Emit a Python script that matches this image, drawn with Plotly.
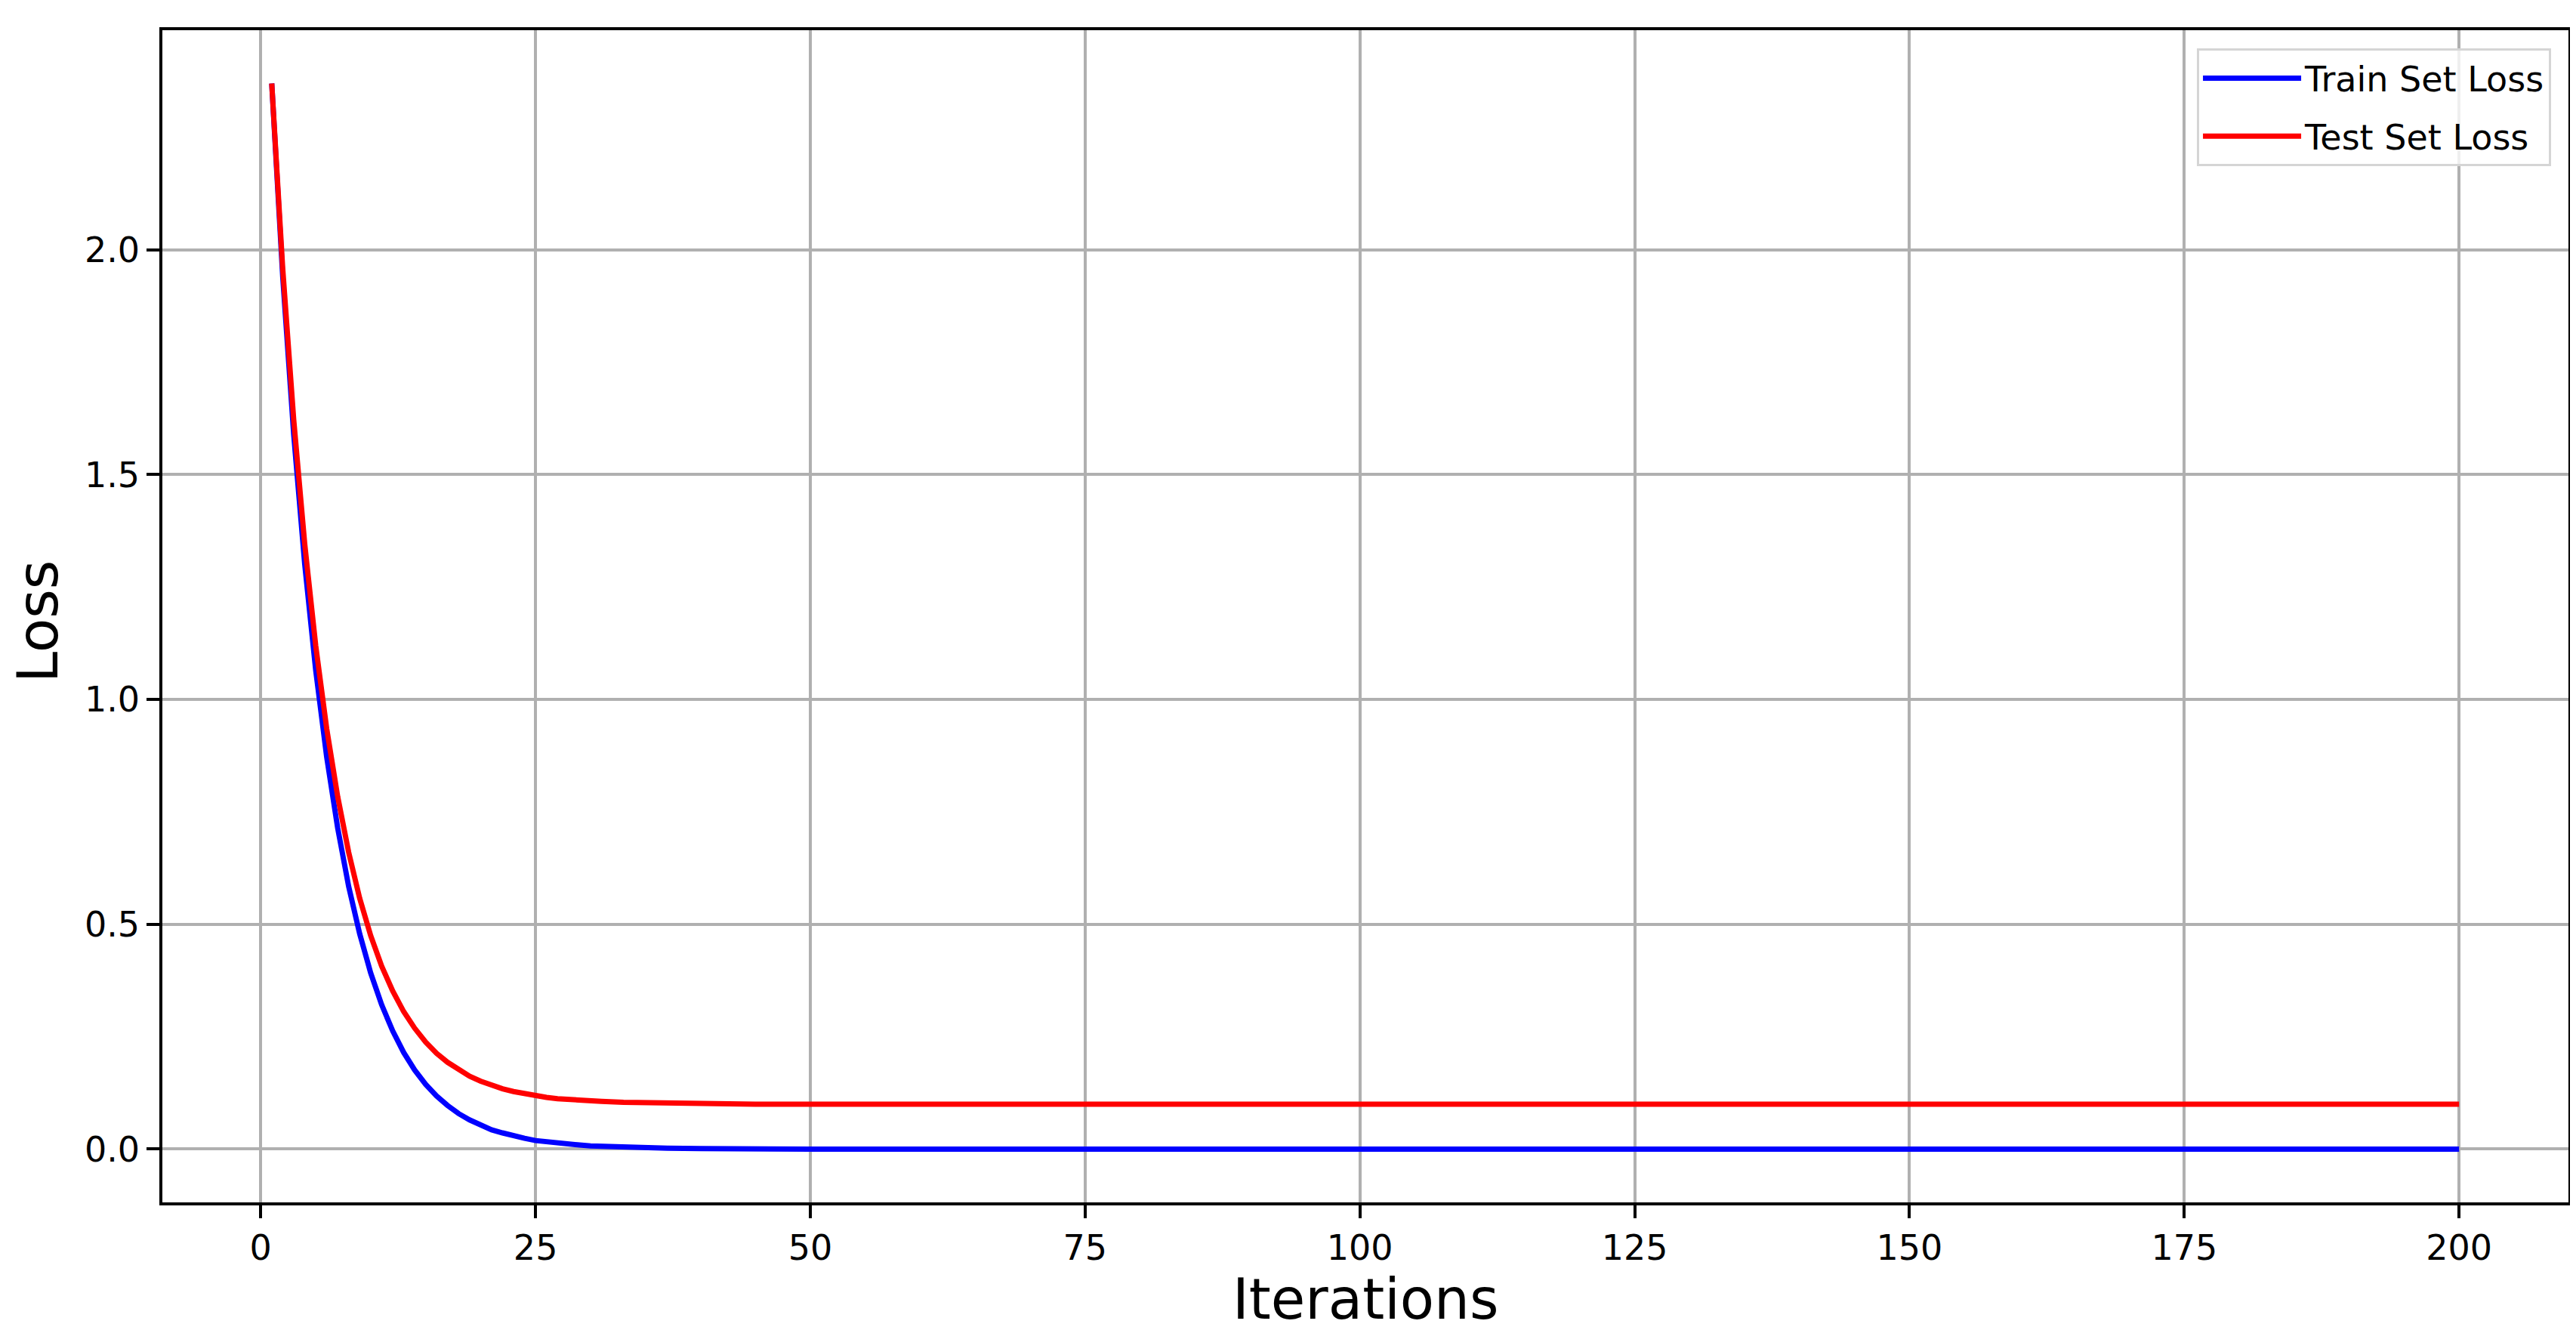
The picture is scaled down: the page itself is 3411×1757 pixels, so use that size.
import plotly.graph_objects as go

# 迭代次數（前段逐點讀取，後段平穩區取稀疏點）
iterations = list(range(1, 32)) + [33, 35, 37, 40, 45, 50, 75, 100, 125, 150, 175, 200]

train_loss = [
    2.370, 1.940, 1.589, 1.301, 1.065, 0.872, 0.714, 0.584, 0.479, 0.392,
    0.321, 0.263, 0.215, 0.176, 0.144, 0.118, 0.097, 0.079, 0.065, 0.053,
    0.043, 0.036, 0.029, 0.024, 0.019, 0.016, 0.013, 0.011, 0.009, 0.007,
    0.006, 0.004, 0.003, 0.002, 0.001, 0.000, 0.000, 0.000, 0.000, 0.000,
    0.000, 0.000, 0.000,
]

test_loss = [
    2.370, 1.958, 1.622, 1.346, 1.120, 0.935, 0.784, 0.660, 0.558, 0.475,
    0.407, 0.352, 0.306, 0.269, 0.238, 0.213, 0.193, 0.176, 0.162, 0.151,
    0.142, 0.134, 0.128, 0.123, 0.119, 0.115, 0.112, 0.110, 0.108, 0.107,
    0.106, 0.104, 0.103, 0.102, 0.101, 0.100, 0.100, 0.100, 0.100, 0.100,
    0.100, 0.100, 0.100,
]

x_ticks = [0, 25, 50, 75, 100, 125, 150, 175, 200]
y_ticks = [0.0, 0.5, 1.0, 1.5, 2.0]

FONT = "DejaVu Sans"
GRID = "#b0b0b0"

fig = go.Figure()

fig.add_trace(go.Scatter(
    x=iterations, y=train_loss,
    mode="lines",
    line=dict(color="#0000ff", width=7),
    name="Train Set Loss",
    legendgroup="train",
))
fig.add_trace(go.Scatter(
    x=iterations, y=test_loss,
    mode="lines",
    line=dict(color="#ff0000", width=7),
    name="Test Set Loss",
    legendgroup="test",
))

axis_common = dict(
    showgrid=True, gridcolor=GRID, gridwidth=3.5,
    zeroline=False,
    showline=True, linecolor="black", linewidth=3.5, mirror=True,
    ticks="outside", ticklen=17, tickwidth=3.5, tickcolor="black",
    tickfont=dict(family=FONT, size=46, color="black"),
)

fig.update_xaxes(range=[-8.95, 209.95], tickvals=x_ticks, **axis_common)
fig.update_yaxes(range=[-0.1185, 2.4885], tickvals=y_ticks, tickformat=".1f", **axis_common)

# 軸標題用 annotation 精確定位
title_font = dict(family=FONT, size=74, color="black")
fig.add_annotation(
    text="Iterations", xref="paper", yref="paper", x=0.5, y=0,
    xanchor="center", yanchor="middle", yshift=-128,
    showarrow=False, font=title_font,
)
fig.add_annotation(
    text="Loss", xref="paper", yref="paper", x=0, y=0.4955,
    xanchor="center", yanchor="middle", xshift=-165, textangle=-90,
    showarrow=False, font=title_font,
)

fig.update_layout(
    width=3411, height=1757,
    paper_bgcolor="white", plot_bgcolor="white",
    margin=dict(l=207, r=18, t=32, b=173),
    font=dict(family=FONT, color="black"),
    showlegend=True,
    legend=dict(
        x=0.9928, y=0.9845, xanchor="right", yanchor="top",
        bgcolor="rgba(255,255,255,0.8)",
        bordercolor="#d5d5d5", borderwidth=3,
        font=dict(family=FONT, size=46, color="black"),
        itemwidth=130,
        tracegroupgap=14,
    ),
)

fig.write_html("out.html")
